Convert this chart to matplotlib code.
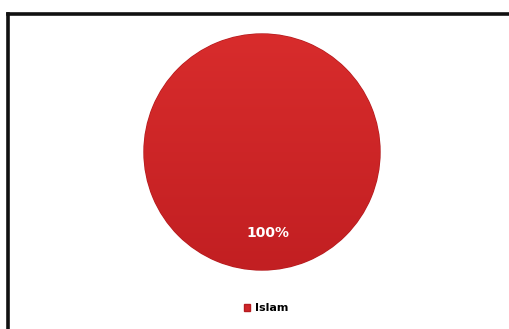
import matplotlib
matplotlib.use('Agg')
import matplotlib.pyplot as plt
import numpy as np
from matplotlib.lines import Line2D

labels = ['Islam']
values = [100]
colors = ['#d0262a']

W, H = 510, 329
fig = plt.figure(figsize=(W/100, H/100), dpi=100)
fig.patch.set_facecolor('white')

# frame: only the top and left edges show inside the picture
fig.add_artist(Line2D([8/W, 1.0], [1 - 14/H, 1 - 14/H], color='#111111', lw=2.6))
fig.add_artist(Line2D([8.5/W, 8.5/W], [0.0, 1 - 14/H], color='#111111', lw=2.6))

cx, cy, r = 262, 152, 118
ax = fig.add_axes([(cx - r)/W, (H - cy - r)/H, 2*r/W, 2*r/H])
wedges, texts, autotexts = ax.pie(
    values, colors=colors, startangle=90, counterclock=False,
    autopct='%1.0f%%', pctdistance=0.69,
    wedgeprops={'edgecolor': '#b51c1f', 'linewidth': 1.0},
    textprops={'color': 'white', 'fontsize': 10, 'fontweight': 'bold'},
)

# soft vertical shading inside the slice, lighter at the top
grad = np.linspace(0, 1, 256).reshape(-1, 1)
shade = matplotlib.colors.LinearSegmentedColormap.from_list(
    'shade', ['#d82c2c', '#c21f22'])
img = ax.imshow(grad, extent=(-1, 1, -1, 1), cmap=shade, zorder=1.5,
                aspect='auto')
img.set_clip_path(wedges[0])
ax.set_xlim(-1, 1)
ax.set_ylim(-1, 1)
ax.set_aspect('equal')
ax.axis('off')
for t in autotexts:
    t.set_zorder(3)
    t.set_x(t.get_position()[0] + 0.05)

fig.legend(wedges, labels, loc='center', bbox_to_anchor=(266/W, 1 - 308/H),
           frameon=False, handlelength=0.6, handleheight=0.6,
           handletextpad=0.4, prop={'size': 8, 'weight': 'bold'})

fig.savefig('out.png', dpi=100)
